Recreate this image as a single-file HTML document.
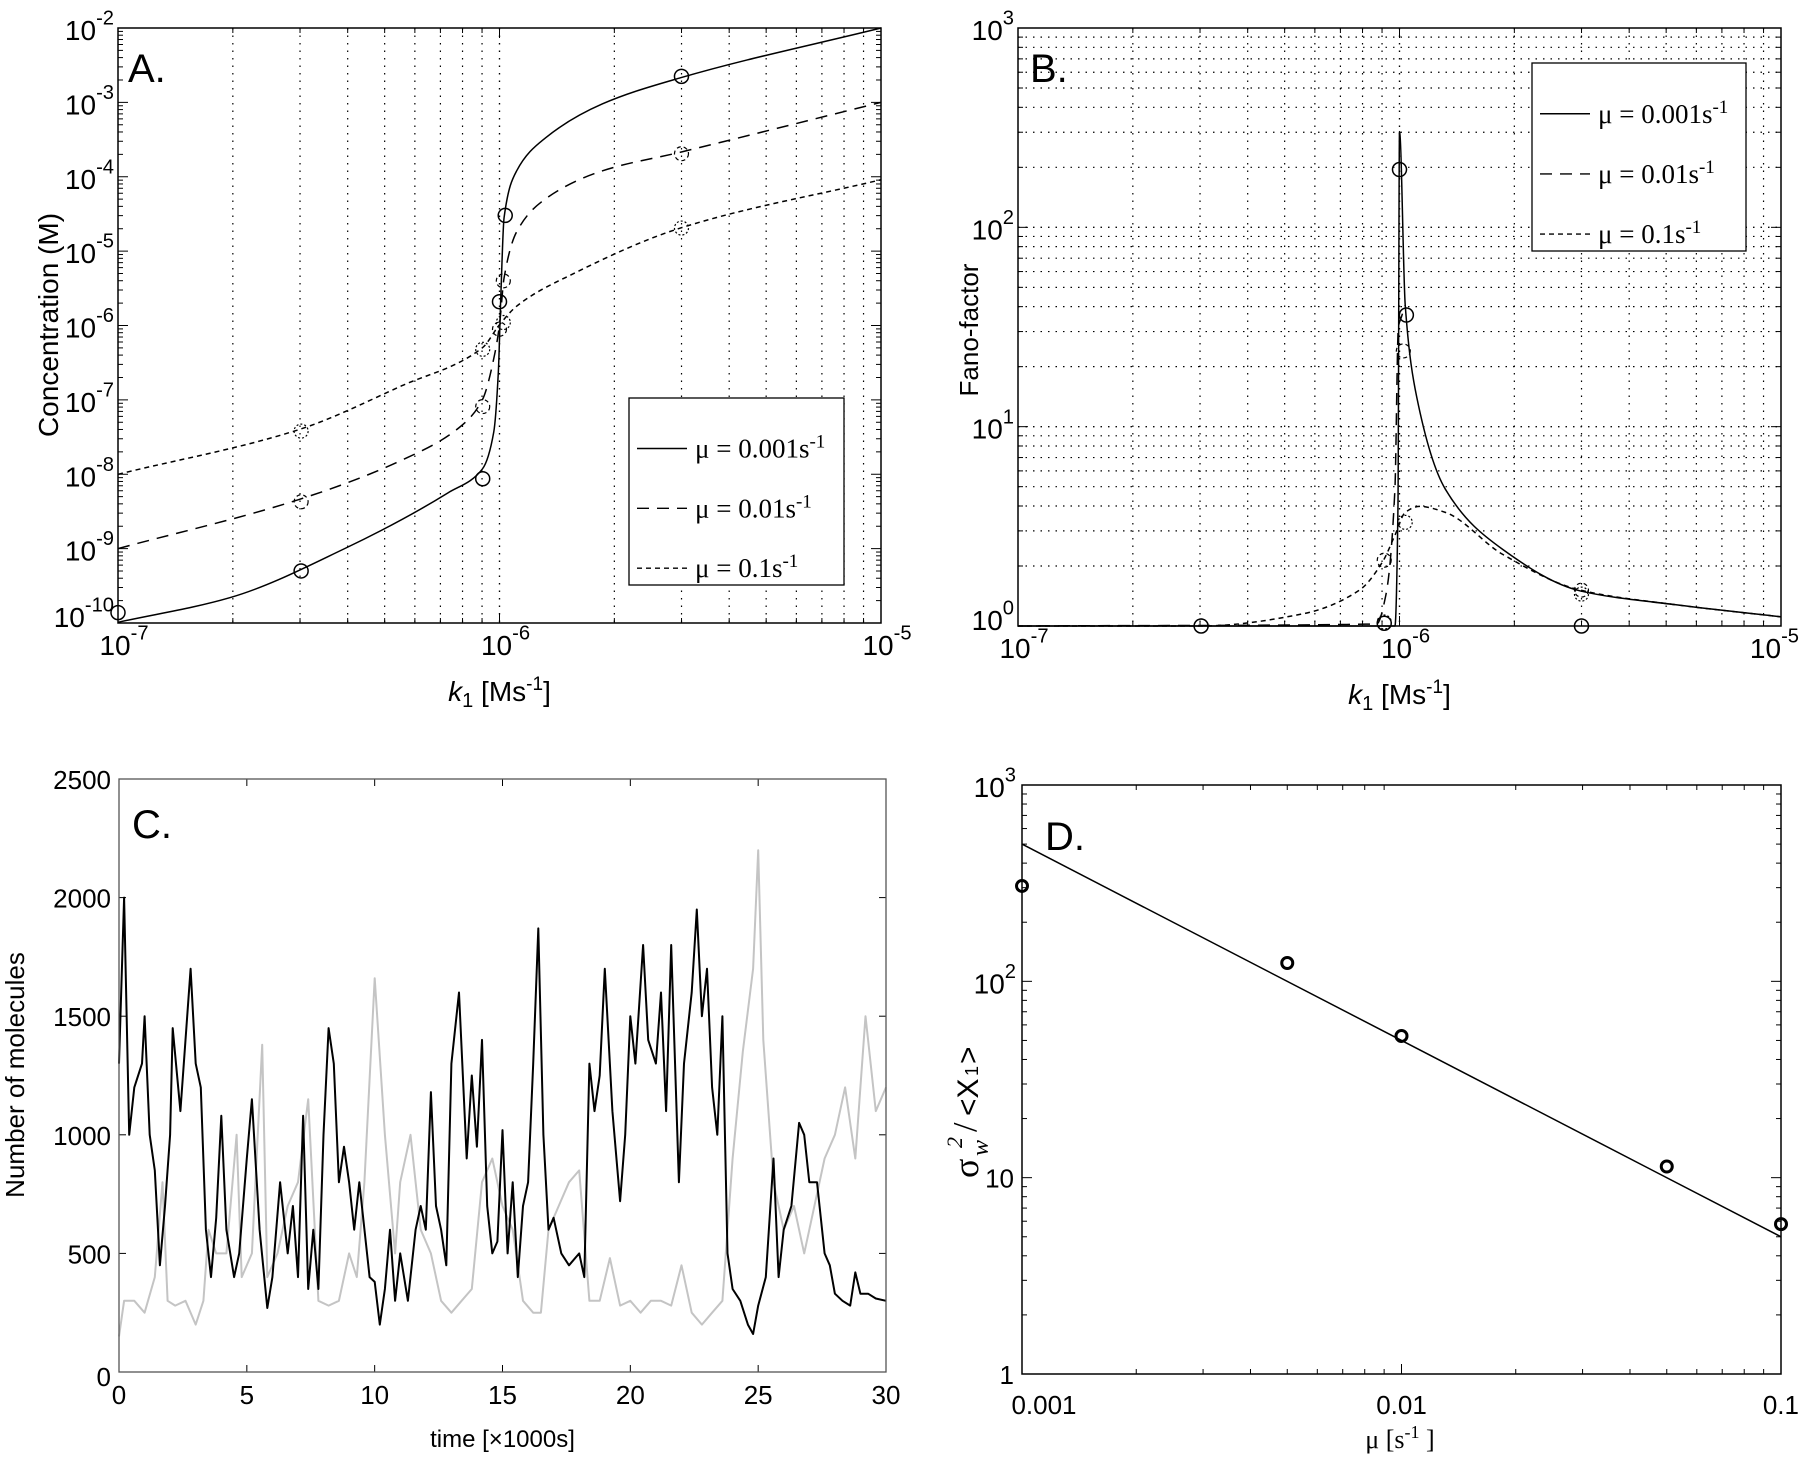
<!DOCTYPE html>
<html><head><meta charset="utf-8"><style>
html,body{margin:0;padding:0;background:#fff}
svg{display:block}
text{font-family:"Liberation Sans",sans-serif;fill:#000}
.serif{font-family:"Liberation Serif",serif}
</style></head><body>
<svg id="fig" width="1800" height="1460" viewBox="0 0 1800 1460"></svg>
<script>
// ---------- Panel A data (log10 values) ----------
const aSolidK=[-7,-6.707,-6.406,-6.135,-6.045,-6.015,-6.003,-5.997,-5.988,-5.955,-5.88,-5.73,-5.526,-5];
const aSolidC=[-9.99,-9.66,-9.0,-8.25,-7.93,-7.43,-6.62,-5.68,-4.55,-3.92,-3.48,-3.02,-2.67,-2.0];
const aDashK=[-7,-6.526,-6.256,-6.105,-6.045,-6.012,-6.0,-5.988,-5.955,-5.88,-5.73,-5.526,-5];
const aDashC=[-9.0,-8.34,-7.81,-7.37,-7.0,-6.37,-5.99,-5.36,-4.74,-4.30,-3.92,-3.67,-3.0];
const aDotK=[-7,-6.526,-6.256,-6.045,-6.0,-5.955,-5.805,-5.526,-5];
const aDotC=[-8.0,-7.40,-6.81,-6.30,-5.99,-5.74,-5.30,-4.69,-4.04];
const aSolidMk=[-7,-6.52,-6.044,-6.0,-5.985,-5.523];
const aSolidMc=[-9.86,-9.3,-8.06,-5.68,-4.52,-2.65];
const aDashMk=[-6.52,-6.044,-6.0,-5.99,-5.523];
const aDashMc=[-8.37,-7.09,-6.05,-5.40,-3.69];
const aDotMk=[-6.52,-6.044,-5.99,-5.523];
const aDotMc=[-7.42,-6.32,-5.96,-4.69];
// ---------- Panel B data ----------
const bSolidK=[-7,-6.012,-6.004,-6.0,-5.985,-5.955,-5.88,-5.73,-5.526,-5.278,-5];
const bSolidF=[0,0,0.6,2.48,1.61,1.15,0.687,0.385,0.176,0.107,0.046];
const bDashK=[-7,-6.06,-6.036,-6.012,-6.003,-5.995,-5.985];
const bDashF=[0,0.01,0.153,0.687,1.5,1.55,1.61];
const bDotK=[-7,-6.52,-6.256,-6.105,-6.045,-6.012,-5.985,-5.947,-5.88,-5.73,-5.526,-5.278,-5];
const bDotF=[0,0,0.06,0.18,0.32,0.455,0.57,0.60,0.57,0.36,0.18,0.107,0.046];
const bSolidMk=[-6.52,-6.04,-6.0,-5.982,-5.523];
const bSolidMf=[0,0.014,2.29,1.56,0];
const bDashMk=[-6.04,-5.99,-5.523];
const bDashMf=[0.33,1.38,0.18];
const bDotMk=[-6.52,-6.04,-5.985,-5.523];
const bDotMf=[0,0.02,0.52,0.16];
// ---------- Panel C data (time in 1000s, molecules) ----------
const cBlackT=[0,0.2,0.4,0.6,0.9,1.0,1.2,1.4,1.6,1.8,2.0,2.1,2.4,2.6,2.8,3.0,3.2,3.4,3.6,3.8,4.0,4.2,4.5,4.7,5.0,5.2,5.5,5.8,6.0,6.3,6.6,6.8,7.0,7.2,7.4,7.6,7.8,8.0,8.2,8.4,8.6,8.8,9.0,9.2,9.4,9.8,10.0,10.2,10.4,10.6,10.8,11.0,11.3,11.6,11.8,12.0,12.2,12.4,12.6,12.8,13.0,13.3,13.6,13.8,14.0,14.2,14.4,14.6,14.8,15.0,15.2,15.4,15.6,15.8,16.0,16.2,16.4,16.6,16.8,17.0,17.3,17.6,18.0,18.2,18.4,18.6,18.8,19.0,19.3,19.6,19.8,20.0,20.2,20.5,20.7,21.0,21.2,21.4,21.6,21.9,22.1,22.4,22.6,22.8,23.0,23.2,23.4,23.6,23.8,24.0,24.3,24.6,24.8,25.0,25.3,25.6,25.8,26.0,26.3,26.6,26.8,27.0,27.3,27.6,27.8,28.0,28.3,28.6,28.8,29.0,29.3,29.6,30];
const cBlackV=[1300,2000,1000,1200,1300,1500,1000,850,450,700,1000,1450,1100,1400,1700,1300,1200,600,400,650,1080,600,400,500,900,1150,600,270,400,800,500,700,400,1080,350,600,350,1000,1450,1300,800,950,800,600,800,400,380,200,350,600,300,500,300,600,700,600,1180,700,600,450,1300,1600,900,1250,950,1400,700,500,550,1020,500,800,400,700,800,1300,1870,1000,600,650,500,450,500,400,1300,1100,1250,1700,1100,720,1000,1500,1300,1800,1400,1300,1600,1100,1800,800,1300,1600,1950,1500,1700,1200,1000,1500,500,350,300,200,160,280,400,900,400,600,700,1050,1000,800,800,500,450,330,300,280,420,330,330,310,300];
const cGrayT=[0,0.2,0.6,1.0,1.4,1.7,1.9,2.2,2.6,3.0,3.3,3.5,3.8,4.2,4.6,4.8,5.2,5.6,5.8,6.2,6.6,7.0,7.4,7.8,8.2,8.6,9.0,9.3,9.6,10.0,10.4,10.8,11.0,11.4,11.8,12.2,12.6,13.0,13.4,13.8,14.2,14.6,15.0,15.4,15.8,16.2,16.5,16.8,17.2,17.6,18.0,18.4,18.8,19.2,19.6,20.0,20.4,20.8,21.2,21.6,22.0,22.4,22.8,23.2,23.6,24.0,24.4,24.8,25.0,25.2,25.6,26.0,26.4,26.8,27.2,27.6,28.0,28.4,28.8,29.2,29.6,30];
const cGrayV=[150,300,300,250,400,800,300,280,300,200,300,600,500,500,1000,400,500,1380,400,500,700,800,1150,300,280,300,500,400,800,1660,1000,500,800,1000,600,500,300,250,300,350,800,900,700,600,300,250,250,600,700,800,850,300,300,480,280,300,250,300,300,280,450,250,200,250,300,900,1350,1700,2200,1400,800,600,700,500,700,900,1000,1200,900,1500,1100,1200];
const cXTicks=[0,5,10,15,20,25,30];
const cYTicks=[0,500,1000,1500,2000,2500];
// ---------- Panel D data ----------
const dMu=[0.001,0.005,0.01,0.05,0.1];
const dVal=[306,124,52.7,11.4,5.8];
const dFitMu=[0.001,0.1];
const dFitVal=[500,5];
const dXTickVals=[0.001,0.01,0.1];
const dXTickLabels=["0.001","0.01","0.1"];
const dYTickVals=[1,10,100,1000];

const NS="http://www.w3.org/2000/svg";
const svg=document.getElementById('fig');
function el(tag,attrs,parent,txt){const e=document.createElementNS(NS,tag);for(const k in attrs)e.setAttribute(k,attrs[k]);if(txt!==undefined)e.textContent=txt;(parent||svg).appendChild(e);return e;}
function lin(d0,d1,r0,r1){return v=>r0+(v-d0)/(d1-d0)*(r1-r0);}
function poly(xs,ys,sx,sy,g,style,name){
  const pts=xs.map((x,i)=>sx(x).toFixed(1)+','+sy(ys[i]).toFixed(1)).join(' ');
  const p=el('polyline',Object.assign({points:pts,fill:'none','stroke-linejoin':'round'},style),g);
  
  
  return p;
}
// monotone cubic (Fritsch-Carlson) path – no overshoot
function smooth(xs,ys,sx,sy,g,style,name){
  const X=xs.map(sx),Y=ys.map(sy),n=X.length;
  const d=[],m=new Array(n);
  for(let i=0;i<n-1;i++)d.push((Y[i+1]-Y[i])/(X[i+1]-X[i]));
  m[0]=d[0];m[n-1]=d[n-2];
  for(let i=1;i<n-1;i++){
    if(d[i-1]*d[i]<=0)m[i]=0;
    else{const h0=X[i]-X[i-1],h1=X[i+1]-X[i];const w1=2*h1+h0,w2=h1+2*h0;m[i]=(w1+w2)/(w1/d[i-1]+w2/d[i]);}
  }
  let path='M'+X[0].toFixed(1)+','+Y[0].toFixed(1);
  for(let i=0;i<n-1;i++){const h=(X[i+1]-X[i])/3;
    path+=` C${(X[i]+h).toFixed(2)},${(Y[i]+m[i]*h).toFixed(2)} ${(X[i+1]-h).toFixed(2)},${(Y[i+1]-m[i+1]*h).toFixed(2)} ${X[i+1].toFixed(2)},${Y[i+1].toFixed(2)}`;}
  const p=el('path',Object.assign({d:path,fill:'none'},style),g);
  
  
  return p;
}
function marks(xs,ys,sx,sy,g,r,style,name){
  xs.forEach((x,i)=>{const c=el('circle',Object.assign({cx:sx(x),cy:sy(ys[i]),r:r,fill:'none'},style),g);
    
    });
}
function supLabel(g,x,y,base,exp,size,anchor){
  const t=el('text',{x:x,y:y,'font-size':size,'text-anchor':anchor||'middle'},g);
  
  
  el('tspan',{},t,base);el('tspan',{'dy':-size*0.55,'font-size':size*0.72},t,exp);
  return t;
}
function logPanel(name,L,R,T,B,xd0,xd1,yd0,yd1,yGrid){
  const g=el('g',{});
  const sx=lin(xd0,xd1,L,R),sy=lin(yd0,yd1,B,T);
  for(let d=xd0;d<xd1;d++)for(let m=1;m<=10;m++){const v=d+Math.log10(m);if(v<=xd0||v>=xd1)continue;
    el('line',{x1:sx(v),x2:sx(v),y1:T,y2:B,stroke:'#000','stroke-width':1.2,'stroke-dasharray':'1.5 6'},g);}
  if(yGrid)for(let d=yd0;d<yd1;d++)for(let m=1;m<=10;m++){const v=d+Math.log10(m);if(v<=yd0||v>=yd1)continue;
    el('line',{x1:L,x2:R,y1:sy(v),y2:sy(v),stroke:'#000','stroke-width':1.2,'stroke-dasharray':'1.5 6'},g);}
  for(let d=xd0;d<xd1;d++)for(let m=2;m<=9;m++){const x=sx(d+Math.log10(m));
    el('line',{x1:x,x2:x,y1:B,y2:B-5,stroke:'#000'},g);el('line',{x1:x,x2:x,y1:T,y2:T+5,stroke:'#000'},g);}
  for(let d=yd0;d<yd1;d++)for(let m=2;m<=9;m++){const y=sy(d+Math.log10(m));
    el('line',{x1:L,x2:L+5,y1:y,y2:y,stroke:'#000'},g);el('line',{x1:R,x2:R-5,y1:y,y2:y,stroke:'#000'},g);}
  for(let d=yd0;d<=yd1;d++){el('line',{x1:L,x2:L+10,y1:sy(d),y2:sy(d),stroke:'#000'},g);el('line',{x1:R,x2:R-10,y1:sy(d),y2:sy(d),stroke:'#000'},g);
    supLabel(g,L-4,sy(d)+(d===yd0?4:12),'10',String(d),28,'end');}
  for(let d=xd0;d<=xd1;d++){el('line',{x1:sx(d),x2:sx(d),y1:B,y2:B-10,stroke:'#000'},g);el('line',{x1:sx(d),x2:sx(d),y1:T,y2:T+10,stroke:'#000'},g);
    if(sx(d)>1700)supLabel(g,1799,B+32,'10',String(d),28,'end');
    else supLabel(g,sx(d)+6,B+32,'10',String(d),28,'middle');}
  const f=el('rect',{x:L,y:T,width:R-L,height:B-T,fill:'none',stroke:'#000','stroke-width':1.5},g);
  
  const xl=el('text',{x:(L+R)/2,y:B+78,'font-size':28,'text-anchor':'middle'},g);
  
  el('tspan',{'font-style':'italic'},xl,'k');el('tspan',{dy:6,'font-size':20},xl,'1');el('tspan',{dy:-6},xl,'  [Ms');
  el('tspan',{dy:-11,'font-size':19},xl,'-1');el('tspan',{dy:11},xl,']');
  return {g,sx,sy};
}
function legend(g,x,y,w,h){
  const r=el('rect',{x:x,y:y,width:w,height:h,fill:'#fff',stroke:'#000','stroke-width':1.3},g);
  
  const items=[['0.001','none'],['0.01','12 8'],['0.1','5 4']];
  items.forEach((it,i)=>{const yy=y+h*(0.27+0.32*i);
    const ln=el('line',{x1:x+8,x2:x+58,y1:yy,y2:yy,stroke:'#000','stroke-width':1.4,'stroke-dasharray':it[1]},g);
    
    const t=el('text',{x:x+66,y:yy+9,'font-size':27,class:'serif'},g);
    
    el('tspan',{},t,'μ = '+it[0]+'s');el('tspan',{dy:-10,'font-size':19},t,'-1');});
}
function panelLetter(g,x,y,s){const t=el('text',{x:x,y:y,'font-size':40},g,s);}
function yTitle(g,x,y,s,size){const t=el('text',{x:x,y:y,'font-size':size,'text-anchor':'middle',transform:`rotate(-90 ${x} ${y})`},g,s);return t;}

// Panel A
(function(){
  const P=logPanel('panel-a',118,881,28,623,-7,-5,-10,-2,false);
  const S={stroke:'#000','stroke-width':1.5};
  smooth(aSolidK,aSolidC,P.sx,P.sy,P.g,S,'line-mu-0001');
  smooth(aDashK,aDashC,P.sx,P.sy,P.g,Object.assign({'stroke-dasharray':'12 8'},S),'line-mu-001');
  smooth(aDotK,aDotC,P.sx,P.sy,P.g,Object.assign({'stroke-dasharray':'5 4'},S),'line-mu-01');
  marks(aSolidMk,aSolidMc,P.sx,P.sy,P.g,7,{stroke:'#000','stroke-width':1.5},'marker-mu-0001');
  marks(aDashMk,aDashMc,P.sx,P.sy,P.g,7,{stroke:'#000','stroke-width':1.2,'stroke-dasharray':'4 3'},'marker-mu-001');
  marks(aDotMk,aDotMc,P.sx,P.sy,P.g,7,{stroke:'#000','stroke-width':1.2,'stroke-dasharray':'2 2'},'marker-mu-01');
  legend(P.g,629,398,215,187);
  panelLetter(P.g,128,82,'A.');
  yTitle(P.g,58,325,'Concentration (M)',28);
})();
// Panel B
(function(){
  const P=logPanel('panel-b',1018,1781,28,626,-7,-5,0,3,true);
  const S={stroke:'#000','stroke-width':1.5};
  smooth(bSolidK,bSolidF,P.sx,P.sy,P.g,S,'line-mu-0001');
  smooth(bDashK,bDashF,P.sx,P.sy,P.g,Object.assign({'stroke-dasharray':'12 8'},S),'line-mu-001');
  smooth(bDotK,bDotF,P.sx,P.sy,P.g,Object.assign({'stroke-dasharray':'5 4'},S),'line-mu-01');
  marks(bSolidMk,bSolidMf,P.sx,P.sy,P.g,7,{stroke:'#000','stroke-width':1.5},'marker-mu-0001');
  marks(bDashMk,bDashMf,P.sx,P.sy,P.g,7,{stroke:'#000','stroke-width':1.2,'stroke-dasharray':'4 3'},'marker-mu-001');
  marks(bDotMk,bDotMf,P.sx,P.sy,P.g,7,{stroke:'#000','stroke-width':1.2,'stroke-dasharray':'2 2'},'marker-mu-01');
  legend(P.g,1532,63,214,188);
  panelLetter(P.g,1030,82,'B.');
  yTitle(P.g,978,330,'Fano-factor',26);
})();
// Panel C
(function(){
  const g=el('g',{});
  const L=119,R=886,T=779,B=1372;
  const sx=lin(0,30,L,R),sy=lin(0,2500,B,T);
  poly(cGrayT,cGrayV,sx,sy,g,{stroke:'#c4c4c4','stroke-width':2},'series-gray');
  poly(cBlackT,cBlackV,sx,sy,g,{stroke:'#000','stroke-width':2},'series-black');
  cXTicks.forEach(v=>{el('line',{x1:sx(v),x2:sx(v),y1:B,y2:B-7,stroke:'#000'},g);el('line',{x1:sx(v),x2:sx(v),y1:T,y2:T+7,stroke:'#000'},g);
    const t=el('text',{x:sx(v),y:B+32,'font-size':26,'text-anchor':'middle'},g,String(v));});
  cYTicks.forEach(v=>{el('line',{x1:L,x2:L+7,y1:sy(v),y2:sy(v),stroke:'#000'},g);el('line',{x1:R,x2:R-7,y1:sy(v),y2:sy(v),stroke:'#000'},g);
    const t=el('text',{x:L-8,y:sy(v)+(v===0?14:10),'font-size':26,'text-anchor':'end'},g,String(v));});
  const f=el('rect',{x:L,y:T,width:R-L,height:B-T,fill:'none',stroke:'#555','stroke-width':1.3},g);
  
  const xl=el('text',{x:(L+R)/2,y:B+75,'font-size':24,'text-anchor':'middle'},g,'time [×1000s]');
  
  yTitle(g,24,1075,'Number of molecules',26);
  panelLetter(g,132,838,'C.');
})();
// Panel D
(function(){
  const g=el('g',{});
  const L=1022,R=1781,T=785,B=1374;
  const sx=v=>lin(-3,-1,L,R)(Math.log10(v)),sy=v=>lin(0,3,B,T)(Math.log10(v));
  for(let d=-3;d<-1;d++)for(let m=2;m<=9;m++){const x=sx(m*Math.pow(10,d));el('line',{x1:x,x2:x,y1:B,y2:B-5,stroke:'#000'},g);el('line',{x1:x,x2:x,y1:T,y2:T+5,stroke:'#000'},g);}
  for(let d=0;d<3;d++)for(let m=2;m<=9;m++){const y=sy(m*Math.pow(10,d));el('line',{x1:L,x2:L+5,y1:y,y2:y,stroke:'#000'},g);el('line',{x1:R,x2:R-5,y1:y,y2:y,stroke:'#000'},g);}
  dXTickVals.forEach((v,i)=>{el('line',{x1:sx(v),x2:sx(v),y1:B,y2:B-10,stroke:'#000'},g);
    const t=el('text',{x:i===2?1799:sx(v)+(i===0?22:0),y:B+40,'font-size':26,'text-anchor':i===2?'end':'middle'},g,dXTickLabels[i]);});
  dYTickVals.forEach(v=>{el('line',{x1:L,x2:L+10,y1:sy(v),y2:sy(v),stroke:'#000'},g);el('line',{x1:R,x2:R-10,y1:sy(v),y2:sy(v),stroke:'#000'},g);
    if(v>=100){supLabel(g,L-6,sy(v)+12,'10',String(Math.round(Math.log10(v))),28,'end');}
    else{const t=el('text',{x:L-8,y:sy(v)+10,'font-size':26,'text-anchor':'end'},g,String(v));}});
  const f=el('rect',{x:L,y:T,width:R-L,height:B-T,fill:'none',stroke:'#000','stroke-width':1.5},g);
  
  poly(dFitMu,dFitVal,sx,sy,g,{stroke:'#000','stroke-width':1.5},'fit-line');
  marks(dMu,dVal,sx,sy,g,5.5,{stroke:'#000','stroke-width':3},'data-point');
  const xl=el('text',{x:1400,y:1448,'font-size':26,'text-anchor':'middle',class:'serif'},g);
  
  el('tspan',{},xl,'μ [s');el('tspan',{dy:-10,'font-size':18},xl,'-1');el('tspan',{dy:10},xl,' ]');
  const yg=el('g',{transform:'translate(978 1178) rotate(-90)'},g);
  
  el('text',{x:0,y:0,'font-size':36,class:'serif'},yg,'σ');
  el('text',{x:22,y:10,'font-size':24,'font-style':'italic',class:'serif'},yg,'w');
  el('text',{x:30,y:-16,'font-size':22,'font-style':'italic',class:'serif'},yg,'2');
  el('text',{x:46,y:-2,'font-size':34,class:'serif'},yg,'/');
  el('text',{x:62,y:0,'font-size':30},yg,'<X');
  el('text',{x:102,y:0,'font-size':18},yg,'1');
  el('text',{x:114,y:0,'font-size':30},yg,'>');
  panelLetter(g,1045,850,'D.');
})();
</script>
</body></html>
